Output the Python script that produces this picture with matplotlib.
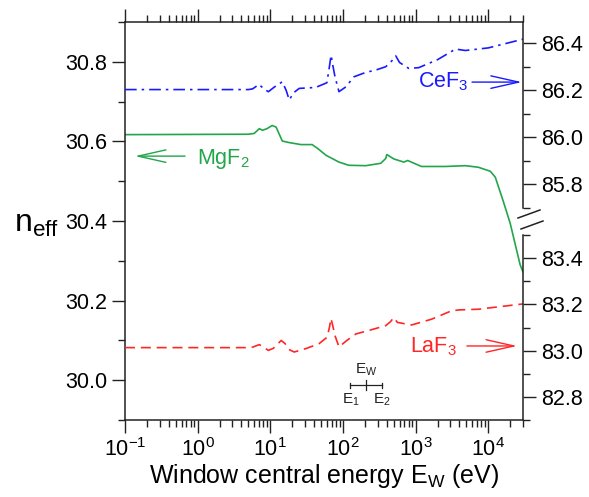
import matplotlib
matplotlib.use("Agg")
import matplotlib.pyplot as plt
import numpy as np
from matplotlib.ticker import MultipleLocator, FormatStrFormatter, LogLocator
from matplotlib.lines import Line2D

plt.rcParams['font.family'] = ['Liberation Sans', 'DejaVu Sans']
plt.rcParams['mathtext.fontset'] = 'custom'
plt.rcParams['mathtext.rm'] = 'Liberation Sans'
plt.rcParams['mathtext.it'] = 'Liberation Sans:italic'
plt.rcParams['mathtext.bf'] = 'Liberation Sans:bold'

# MgF2 on left axis
e_mgf2 = [0.1, 5, 6.0, 7.06, 7.8, 9, 10.6, 12.0, 13.5, 14.6, 18.2, 26.4, 37.6, 45, 58.5, 88,
          120, 206, 331, 387, 401, 500, 686, 777, 1200, 2570, 4840, 7300, 10650, 12470,
          15900, 20000, 27400, 30000]
n_mgf2 = [30.617, 30.618, 30.620, 30.632, 30.628, 30.632, 30.640, 30.636, 30.615, 30.601,
          30.597, 30.592, 30.592, 30.582, 30.565, 30.548, 30.540, 30.539, 30.545, 30.557,
          30.567, 30.556, 30.548, 30.552, 30.537, 30.537, 30.539, 30.535, 30.525, 30.510,
          30.452, 30.394, 30.290, 30.272]

# CeF3 on upper right axis
e_cef3 = [0.1, 5.0, 5.7, 7.0, 8.2, 9.4, 11.5, 14.6, 16.5, 18.2, 21, 25, 42, 60, 65, 68.5, 72,
          77.6, 88, 110, 141, 206, 283, 387, 470, 532, 600, 802, 1100, 2000, 3530, 4840,
          10000, 30000]
n_cef3 = [86.203, 86.203, 86.206, 86.225, 86.205, 86.194, 86.215, 86.236, 86.200, 86.159,
          86.190, 86.208, 86.212, 86.232, 86.300, 86.349, 86.310, 86.257, 86.194, 86.215,
          86.257, 86.276, 86.286, 86.300, 86.325, 86.346, 86.318, 86.293, 86.296, 86.330,
          86.375, 86.369, 86.380, 86.417]

# LaF3 on lower right axis
e_laf3 = [0.1, 5, 5.7, 7.06, 8.5, 9.4, 11, 14.1, 16, 18, 21.3, 31, 46.8, 60.5, 65, 68.5, 72,
          77.6, 88, 113, 150, 250, 387, 450, 500, 560, 880, 1660, 3100, 3950, 7300, 30000]
n_laf3 = [83.013, 83.013, 83.015, 83.026, 83.010, 83.001, 83.010, 83.044, 83.030, 83.005,
          82.994, 83.009, 83.030, 83.058, 83.100, 83.139, 83.110, 83.065, 83.016, 83.044,
          83.072, 83.091, 83.108, 83.125, 83.143, 83.122, 83.111, 83.136, 83.172, 83.176,
          83.179, 83.202]

blue = '#1a1aff'
green = '#22a64a'
red = '#ff2626'
fs = 15.5

W, H = 589, 497
fig = plt.figure(figsize=(W / 100, H / 100), dpi=100)

def fx(px):
    return px / W

def fy(py):
    return (H - py) / H

ax = fig.add_axes([fx(125), fy(420), fx(523) - fx(125), fy(22) - fy(420)])
ax_up = fig.add_axes([fx(125), fy(208), fx(523) - fx(125), fy(22) - fy(208)])
ax_lo = fig.add_axes([fx(125), fy(420), fx(523) - fx(125), fy(235) - fy(420)])

for a in (ax, ax_up, ax_lo):
    a.set_xscale('log')
    a.set_xlim(0.1, 3e4)

ax.plot(e_mgf2, n_mgf2, color=green, lw=1.2)
ax.set_ylim(29.9, 30.9)
ax.yaxis.set_major_locator(MultipleLocator(0.2))
ax.yaxis.set_minor_locator(MultipleLocator(0.1))
ax.yaxis.set_major_formatter(FormatStrFormatter('%.1f'))
ax.xaxis.set_major_locator(LogLocator(base=10, numticks=20))
ax.xaxis.set_minor_locator(LogLocator(base=10, subs=np.arange(2, 10), numticks=20))
ax.spines['right'].set_visible(False)
ax.tick_params(which='both', direction='out', top=True, right=False, labelsize=fs,
               width=1.0, color='#222222')
ax.tick_params(which='major', length=9.5)
ax.tick_params(which='minor', length=5)
ax.set_xlabel(r'Window central energy E$_\mathrm{W}$ (eV)', fontsize=18, labelpad=1)
for s in ('left', 'top', 'bottom'):
    ax.spines[s].set_linewidth(1.1)
    ax.spines[s].set_color('#222222')

ax_up.plot(e_cef3, n_cef3, color=blue, lw=1.2, dashes=[7, 3, 1.5, 3])
ax_up.set_ylim(85.7, 86.49)
ax_lo.plot(e_laf3, n_laf3, color=red, lw=1.2, dashes=[6, 3.5])
ax_lo.set_ylim(82.7, 83.5)
for a in (ax_up, ax_lo):
    a.patch.set_visible(False)
    for s in ('left', 'top', 'bottom'):
        a.spines[s].set_visible(False)
    a.spines['right'].set_linewidth(1.1)
    a.spines['right'].set_color('#222222')
    a.yaxis.tick_right()
    a.yaxis.set_major_locator(MultipleLocator(0.2))
    a.yaxis.set_minor_locator(MultipleLocator(0.1))
    a.yaxis.set_major_formatter(FormatStrFormatter('%.1f'))
    a.tick_params(axis='x', which='both', bottom=False, top=False,
                  labelbottom=False, labeltop=False)
    a.tick_params(axis='y', which='both', direction='out', labelsize=fs,
                  width=1.0, color='#222222')
    a.tick_params(axis='y', which='major', length=9.5)
    a.tick_params(axis='y', which='minor', length=5)

# axis break marks
fig.add_artist(Line2D([fx(518), fx(540)], [fy(218), fy(210)], color='#222222', lw=1.1))
fig.add_artist(Line2D([fx(521), fx(543)], [fy(229), fy(221)], color='#222222', lw=1.1))

# y label
fig.text(fx(14), fy(232), r'n$_\mathrm{eff}$', fontsize=23, ha='left', va='baseline')

# labels with arrows
arrow_kw = dict(arrowstyle='->,head_length=2.0,head_width=0.45', lw=1.0, mutation_scale=10,
                shrinkA=0, shrinkB=0)
ax.annotate('', xy=(0.025, 0.663), xytext=(0.151, 0.663), xycoords='axes fraction',
            arrowprops=dict(color=green, **arrow_kw))
ax.text(0.181, 0.655, r'MgF$_\mathrm{2}$', color=green, fontsize=fs, transform=ax.transAxes,
        ha='left', va='center')
ax.annotate('', xy=(0.997, 0.849), xytext=(0.872, 0.849), xycoords='axes fraction',
            arrowprops=dict(color=blue, **arrow_kw))
ax.text(0.862, 0.850, r'CeF$_\mathrm{3}$', color=blue, fontsize=fs, transform=ax.transAxes,
        ha='right', va='center')
ax.annotate('', xy=(0.985, 0.186), xytext=(0.859, 0.186), xycoords='axes fraction',
            arrowprops=dict(color=red, **arrow_kw))
ax.text(0.834, 0.183, r'LaF$_\mathrm{3}$', color=red, fontsize=fs, transform=ax.transAxes,
        ha='right', va='center')

# window sketch
tr = ax.transAxes
yb = 0.088
dark = '#222222'
ax.plot([0.565, 0.646], [yb, yb], color=dark, lw=0.9, transform=tr)
ax.plot([0.565, 0.565], [yb + 0.006, yb - 0.007], color=dark, lw=0.9, transform=tr)
ax.plot([0.646, 0.646], [yb + 0.006, yb - 0.007], color=dark, lw=0.9, transform=tr)
ax.plot([0.605, 0.605], [yb + 0.013, yb - 0.013], color=dark, lw=0.9, transform=tr)
ax.text(0.607, yb + 0.017, r'E$_\mathrm{W}$', fontsize=11, ha='center', va='bottom',
        transform=tr, color=dark)
ax.text(0.567, yb - 0.017, r'E$_\mathrm{1}$', fontsize=11, ha='center', va='top',
        transform=tr, color=dark)
ax.text(0.646, yb - 0.017, r'E$_\mathrm{2}$', fontsize=11, ha='center', va='top',
        transform=tr, color=dark)

fig.savefig('out.png', dpi=100)
